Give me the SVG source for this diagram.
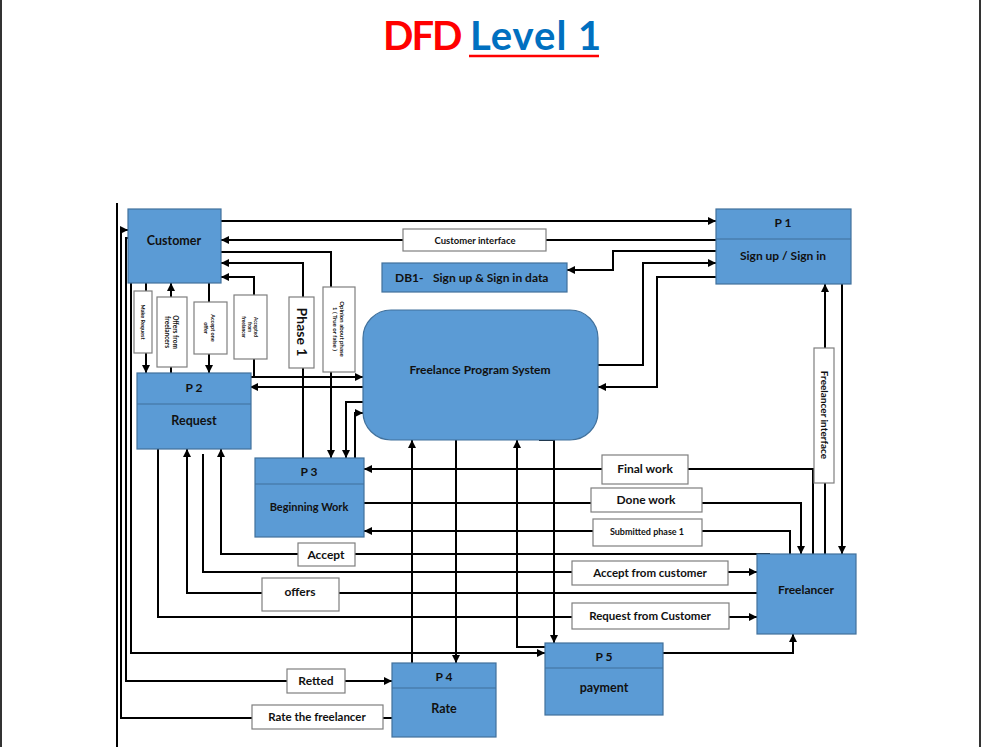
<svg xmlns="http://www.w3.org/2000/svg" width="982" height="747" viewBox="0 0 982 747">
<style>
text{font-family:Lato,"Liberation Sans",Arial,sans-serif;font-weight:700;fill:#111}
.n{fill:#5B9BD5;stroke:#41719C;stroke-width:1.2}
.dv{stroke:#41719C;stroke-width:1.2}
.lb{fill:#fff;stroke:#7F7F7F;stroke-width:1.2}
.c path,.c line{fill:none;stroke:#000;stroke-width:2}
.t{text-anchor:middle}
</style>
<defs>
<marker id="a" viewBox="0 0 10 10" refX="10" refY="5" markerWidth="9" markerHeight="8" orient="auto" markerUnits="userSpaceOnUse"><path d="M0,0 L10,5 L0,10 z" fill="#000"/></marker>
</defs>
<rect width="982" height="747" fill="#fff"/>
<line x1="1" y1="0" x2="1" y2="747" stroke="#333" stroke-width="2"/>
<line x1="980" y1="0" x2="980" y2="747" stroke="#333" stroke-width="2"/>
<g id="title">
<text x="383" y="50" style="font-size:40px;fill:#FF0000;letter-spacing:-2px">DFD</text>
<text x="470" y="50" style="font-size:40px;fill:#0070C0;letter-spacing:1px">Level 1</text>
<line x1="469" y1="56" x2="599" y2="56" stroke="#FF0000" stroke-width="2.5"/>
</g>
<g class="c" id="connectors">
<line x1="117" y1="203" x2="117" y2="747"/>
<path d="M221,221 H716" marker-end="url(#a)"/>
<path d="M716,240 H221" marker-end="url(#a)"/>
<path d="M716,251 H613 V270 H567" marker-end="url(#a)"/>
<path d="M598,365 H643 V263 H716" marker-end="url(#a)"/>
<path d="M716,277 H657 V387 H598" marker-end="url(#a)"/>
<path d="M221,252 H331 V458" marker-end="url(#a)"/>
<path d="M303,458 V263 H221" marker-end="url(#a)"/>
<path d="M254,377 V277 H221" marker-end="url(#a)"/>
<path d="M146,283 V373" marker-end="url(#a)"/>
<path d="M171,373 V283" marker-end="url(#a)"/>
<path d="M209,283 V373" marker-end="url(#a)"/>
<path d="M250,377 H363" marker-end="url(#a)"/>
<path d="M363,387 H250" marker-end="url(#a)"/>
<path d="M364,402 H346 V458" marker-end="url(#a)"/>
<path d="M355,458 V413 H363" marker-end="url(#a)"/>
<path d="M813,554 V469 H364" marker-end="url(#a)"/>
<path d="M364,503 H801 V554" marker-end="url(#a)"/>
<path d="M790,554 V531 H364" marker-end="url(#a)"/>
<path d="M825,554 V284" marker-end="url(#a)"/>
<path d="M842,284 V554" marker-end="url(#a)"/>
<path d="M770,554 H221 V449" marker-end="url(#a)"/>
<path d="M203,454 V572 H757" marker-end="url(#a)"/>
<path d="M757,593 H187 V449" marker-end="url(#a)"/>
<path d="M158,449 V617 H757" marker-end="url(#a)"/>
<path d="M131,283 V653 H545" marker-end="url(#a)"/>
<path d="M663,653 H793 V634" marker-end="url(#a)"/>
<path d="M128,238 H126 V681 H392" marker-end="url(#a)"/>
<path d="M392,718 H121 V230 H128" marker-end="url(#a)"/>
<path d="M412,669 V440" marker-end="url(#a)"/>
<path d="M456,440 V663" marker-end="url(#a)"/>
<path d="M545,647 H517 V440" marker-end="url(#a)"/>
<path d="M539,440 H554 V643" marker-end="url(#a)"/>
</g>
<g id="customer"><rect class="n" x="128" y="209" width="93" height="74"/><text class="t" x="174" y="245" font-size="12.5">Customer</text></g>
<g id="p1"><rect class="n" x="716" y="209" width="135" height="75"/><line class="dv" x1="716" y1="239" x2="851" y2="239"/><text class="t" x="783" y="227" font-size="12">P 1</text><text class="t" x="783" y="260" font-size="12">Sign up / Sign in</text></g>
<g id="db1"><rect class="n" x="382" y="263" width="185" height="29"/><text x="395" y="282" font-size="12">DB1-</text><text x="433" y="282" font-size="12">Sign up &amp; Sign in data</text></g>
<g id="fps"><rect class="n" x="363" y="310" width="235" height="130" rx="28"/><text class="t" x="480" y="374" font-size="12">Freelance Program System</text></g>
<g id="p2"><rect class="n" x="137" y="373" width="114" height="76"/><line class="dv" x1="137" y1="404" x2="251" y2="404"/><text class="t" x="194" y="392" font-size="12">P 2</text><text class="t" x="194" y="425" font-size="12.5">Request</text></g>
<g id="p3"><rect class="n" x="255" y="458" width="109" height="79"/><line class="dv" x1="255" y1="484" x2="364" y2="484"/><text class="t" x="309" y="476" font-size="12">P 3</text><text class="t" x="309" y="511" font-size="11">Beginning Work</text></g>
<g id="freelancer"><rect class="n" x="757" y="554" width="99" height="80"/><text class="t" x="806" y="594" font-size="12">Freelancer</text></g>
<g id="p4"><rect class="n" x="392" y="663" width="104" height="74"/><line class="dv" x1="392" y1="688" x2="496" y2="688"/><text class="t" x="444" y="681" font-size="12">P 4</text><text class="t" x="444" y="713" font-size="12.5">Rate</text></g>
<g id="p5"><rect class="n" x="545" y="643" width="118" height="72"/><line class="dv" x1="545" y1="668" x2="663" y2="668"/><text class="t" x="604" y="661" font-size="12">P 5</text><text class="t" x="604" y="692" font-size="12.5">payment</text></g>
<g id="labels">
<rect class="lb" x="403" y="229" width="143" height="22"/><text class="t" x="475" y="244" font-size="9.5">Customer interface</text>
<rect class="lb" x="602" y="455" width="86" height="29"/><text class="t" x="645" y="473" font-size="12">Final work</text>
<rect class="lb" x="591" y="488" width="111" height="24"/><text class="t" x="646" y="504" font-size="12">Done work</text>
<rect class="lb" x="593" y="519" width="109" height="27"/><text class="t" x="647" y="535" font-size="9">Submitted phase 1</text>
<rect class="lb" x="298" y="543" width="57" height="23"/><text class="t" x="326" y="559" font-size="12">Accept</text>
<rect class="lb" x="262" y="578" width="77" height="33"/><text class="t" x="300" y="596" font-size="12">offers</text>
<rect class="lb" x="572" y="561" width="156" height="24"/><text class="t" x="650" y="577" font-size="11.5">Accept from customer</text>
<rect class="lb" x="572" y="603" width="157" height="26"/><text class="t" x="650" y="620" font-size="11.5">Request from Customer</text>
<rect class="lb" x="287" y="669" width="58" height="24"/><text class="t" x="316" y="685" font-size="12">Retted</text>
<rect class="lb" x="252" y="705" width="131" height="24"/><text class="t" x="317" y="721" font-size="11.5">Rate the freelancer</text>
<rect class="lb" x="814" y="348" width="20" height="135"/><text class="t" transform="translate(824,415) rotate(90)" dy="3.5" font-size="10">Freelancer interface</text>
<rect class="lb" x="134" y="291" width="18" height="62"/><text class="t" transform="translate(143,322) rotate(90)" dy="2" font-size="5.5">Make Request</text>
<rect class="lb" x="157" y="297" width="30" height="70"/><text class="t" transform="translate(172,332) rotate(90)" font-size="6.5"><tspan x="0" dy="-1">Offers from</tspan><tspan x="0" dy="8">freelancers</tspan></text>
<rect class="lb" x="194" y="302" width="33" height="52"/><text class="t" transform="translate(210,328) rotate(90)" font-size="5.5"><tspan x="0" dy="-1">Accept one</tspan><tspan x="0" dy="7">offer</tspan></text>
<rect class="lb" x="234" y="295" width="33" height="64"/><text class="t" transform="translate(250,327) rotate(90)" font-size="4.8"><tspan x="0" dy="-4">Accepted</tspan><tspan x="0" dy="6">from</tspan><tspan x="0" dy="6">freelancer</tspan></text>
<rect class="lb" x="289" y="297" width="25" height="71"/><text class="t" transform="translate(301.5,332) rotate(90)" dy="5" font-size="14">Phase 1</text>
<rect class="lb" x="323" y="287" width="32" height="85"/><text class="t" transform="translate(339,329) rotate(90)" font-size="6"><tspan x="0" dy="-1">Opinion about phase</tspan><tspan x="0" dy="7.5">1 ( True or false )</tspan></text>
</g>
</svg>
